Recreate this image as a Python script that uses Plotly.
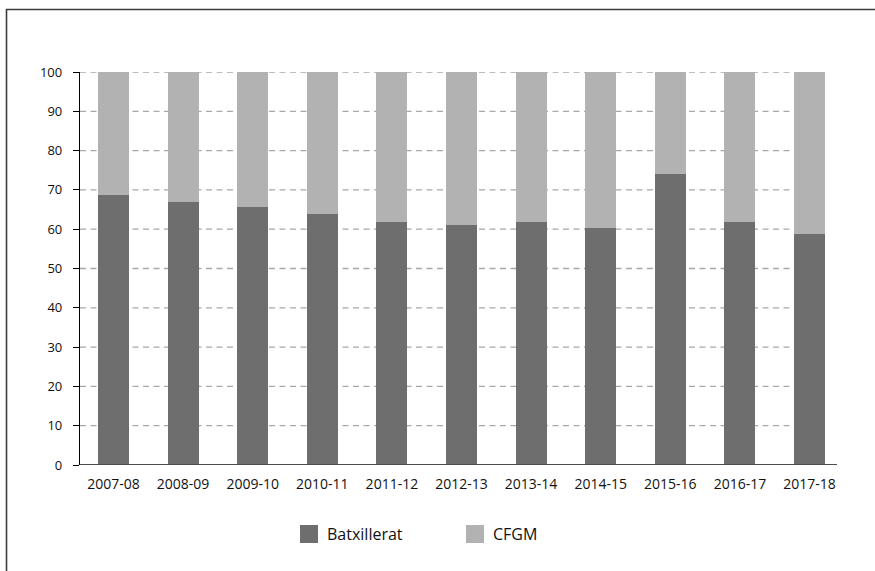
import plotly.graph_objects as go

# School years and share (%) of students in each track
years = ["2007-08", "2008-09", "2009-10", "2010-11", "2011-12", "2012-13",
         "2013-14", "2014-15", "2015-16", "2016-17", "2017-18"]
batxillerat = [68.8, 67.0, 65.6, 63.8, 61.8, 61.0, 61.8, 60.3, 74.0, 61.8, 58.7]
cfgm = [round(100 - v, 1) for v in batxillerat]
series_names = ["Batxillerat", "CFGM"]
series_colors = ["#6e6e6e", "#b2b2b2"]
y_ticks = list(range(0, 101, 10))

W, H = 875, 571
L, R, T, B = 80, 38, 72, 106
plot_w = W - L - R
plot_h = H - T - B

bar_w = 0.445
x_range = [-0.481, 10.395]

fig = go.Figure()
for name, vals, col in zip(series_names, [batxillerat, cfgm], series_colors):
    fig.add_trace(go.Bar(
        x=years, y=vals, name=name, marker=dict(color=col, line_width=0),
        width=bar_w, showlegend=False,
    ))

# dashed horizontal gridlines, ending at the right edge of the last bar
grid_end = len(years) - 1 + bar_w / 2
for t in y_ticks[1:]:
    fig.add_shape(type="line", xref="x", yref="y", x0=x_range[0], x1=grid_end,
                  y0=t, y1=t, line=dict(color="#a8a8a8", width=1.3, dash="6px,4.5px"),
                  layer="below")

# x axis baseline
fig.add_shape(type="line", xref="paper", yref="y", x0=0, x1=1, y0=0, y1=0,
              line=dict(color="#4d4d4d", width=2), layer="above")

# outer frame (its right and bottom edges fall outside the page)
def px_x(p):
    return (p - L) / plot_w

def px_y(p):
    return (H - B - p) / plot_h

fig.add_shape(type="rect", xref="paper", yref="paper",
              x0=px_x(6.5), x1=px_x(905), y0=px_y(600), y1=px_y(9.5),
              line=dict(color="#3c3c3c", width=1.6), fillcolor="rgba(0,0,0,0)")

# legend drawn as swatches plus labels
legend_items = [(300, series_names[0], series_colors[0]), (466, series_names[1], series_colors[1])]
for x0, name, col in legend_items:
    fig.add_shape(type="rect", xref="paper", yref="paper",
                  x0=px_x(x0), x1=px_x(x0 + 18), y0=px_y(543), y1=px_y(525),
                  line_width=0, fillcolor=col)
    fig.add_annotation(xref="paper", yref="paper", x=px_x(x0 + 25), y=px_y(534),
                       text=name, showarrow=False, xanchor="left", yanchor="middle",
                       font=dict(family="Open Sans", size=16, color="#111111"))

fig.update_layout(
    width=W, height=H, margin=dict(l=L, r=R, t=T, b=B),
    barmode="stack", bargap=0,
    plot_bgcolor="white", paper_bgcolor="white",
    font=dict(family="Open Sans", color="#111111"),
    xaxis=dict(type="category", range=x_range, showgrid=False, showline=False, ticks="",
               tickfont=dict(size=14), ticklabelstandoff=9,
               zeroline=False, fixedrange=True),
    yaxis=dict(range=[0, 100], tickvals=y_ticks, showgrid=False, zeroline=False,
               showline=True, linecolor="black", linewidth=1.3,
               ticks="outside", ticklen=6, tickcolor="black", tickwidth=1.3,
               ticklabelstandoff=8, tickfont=dict(size=13)),
)

fig.write_html("out.html")
